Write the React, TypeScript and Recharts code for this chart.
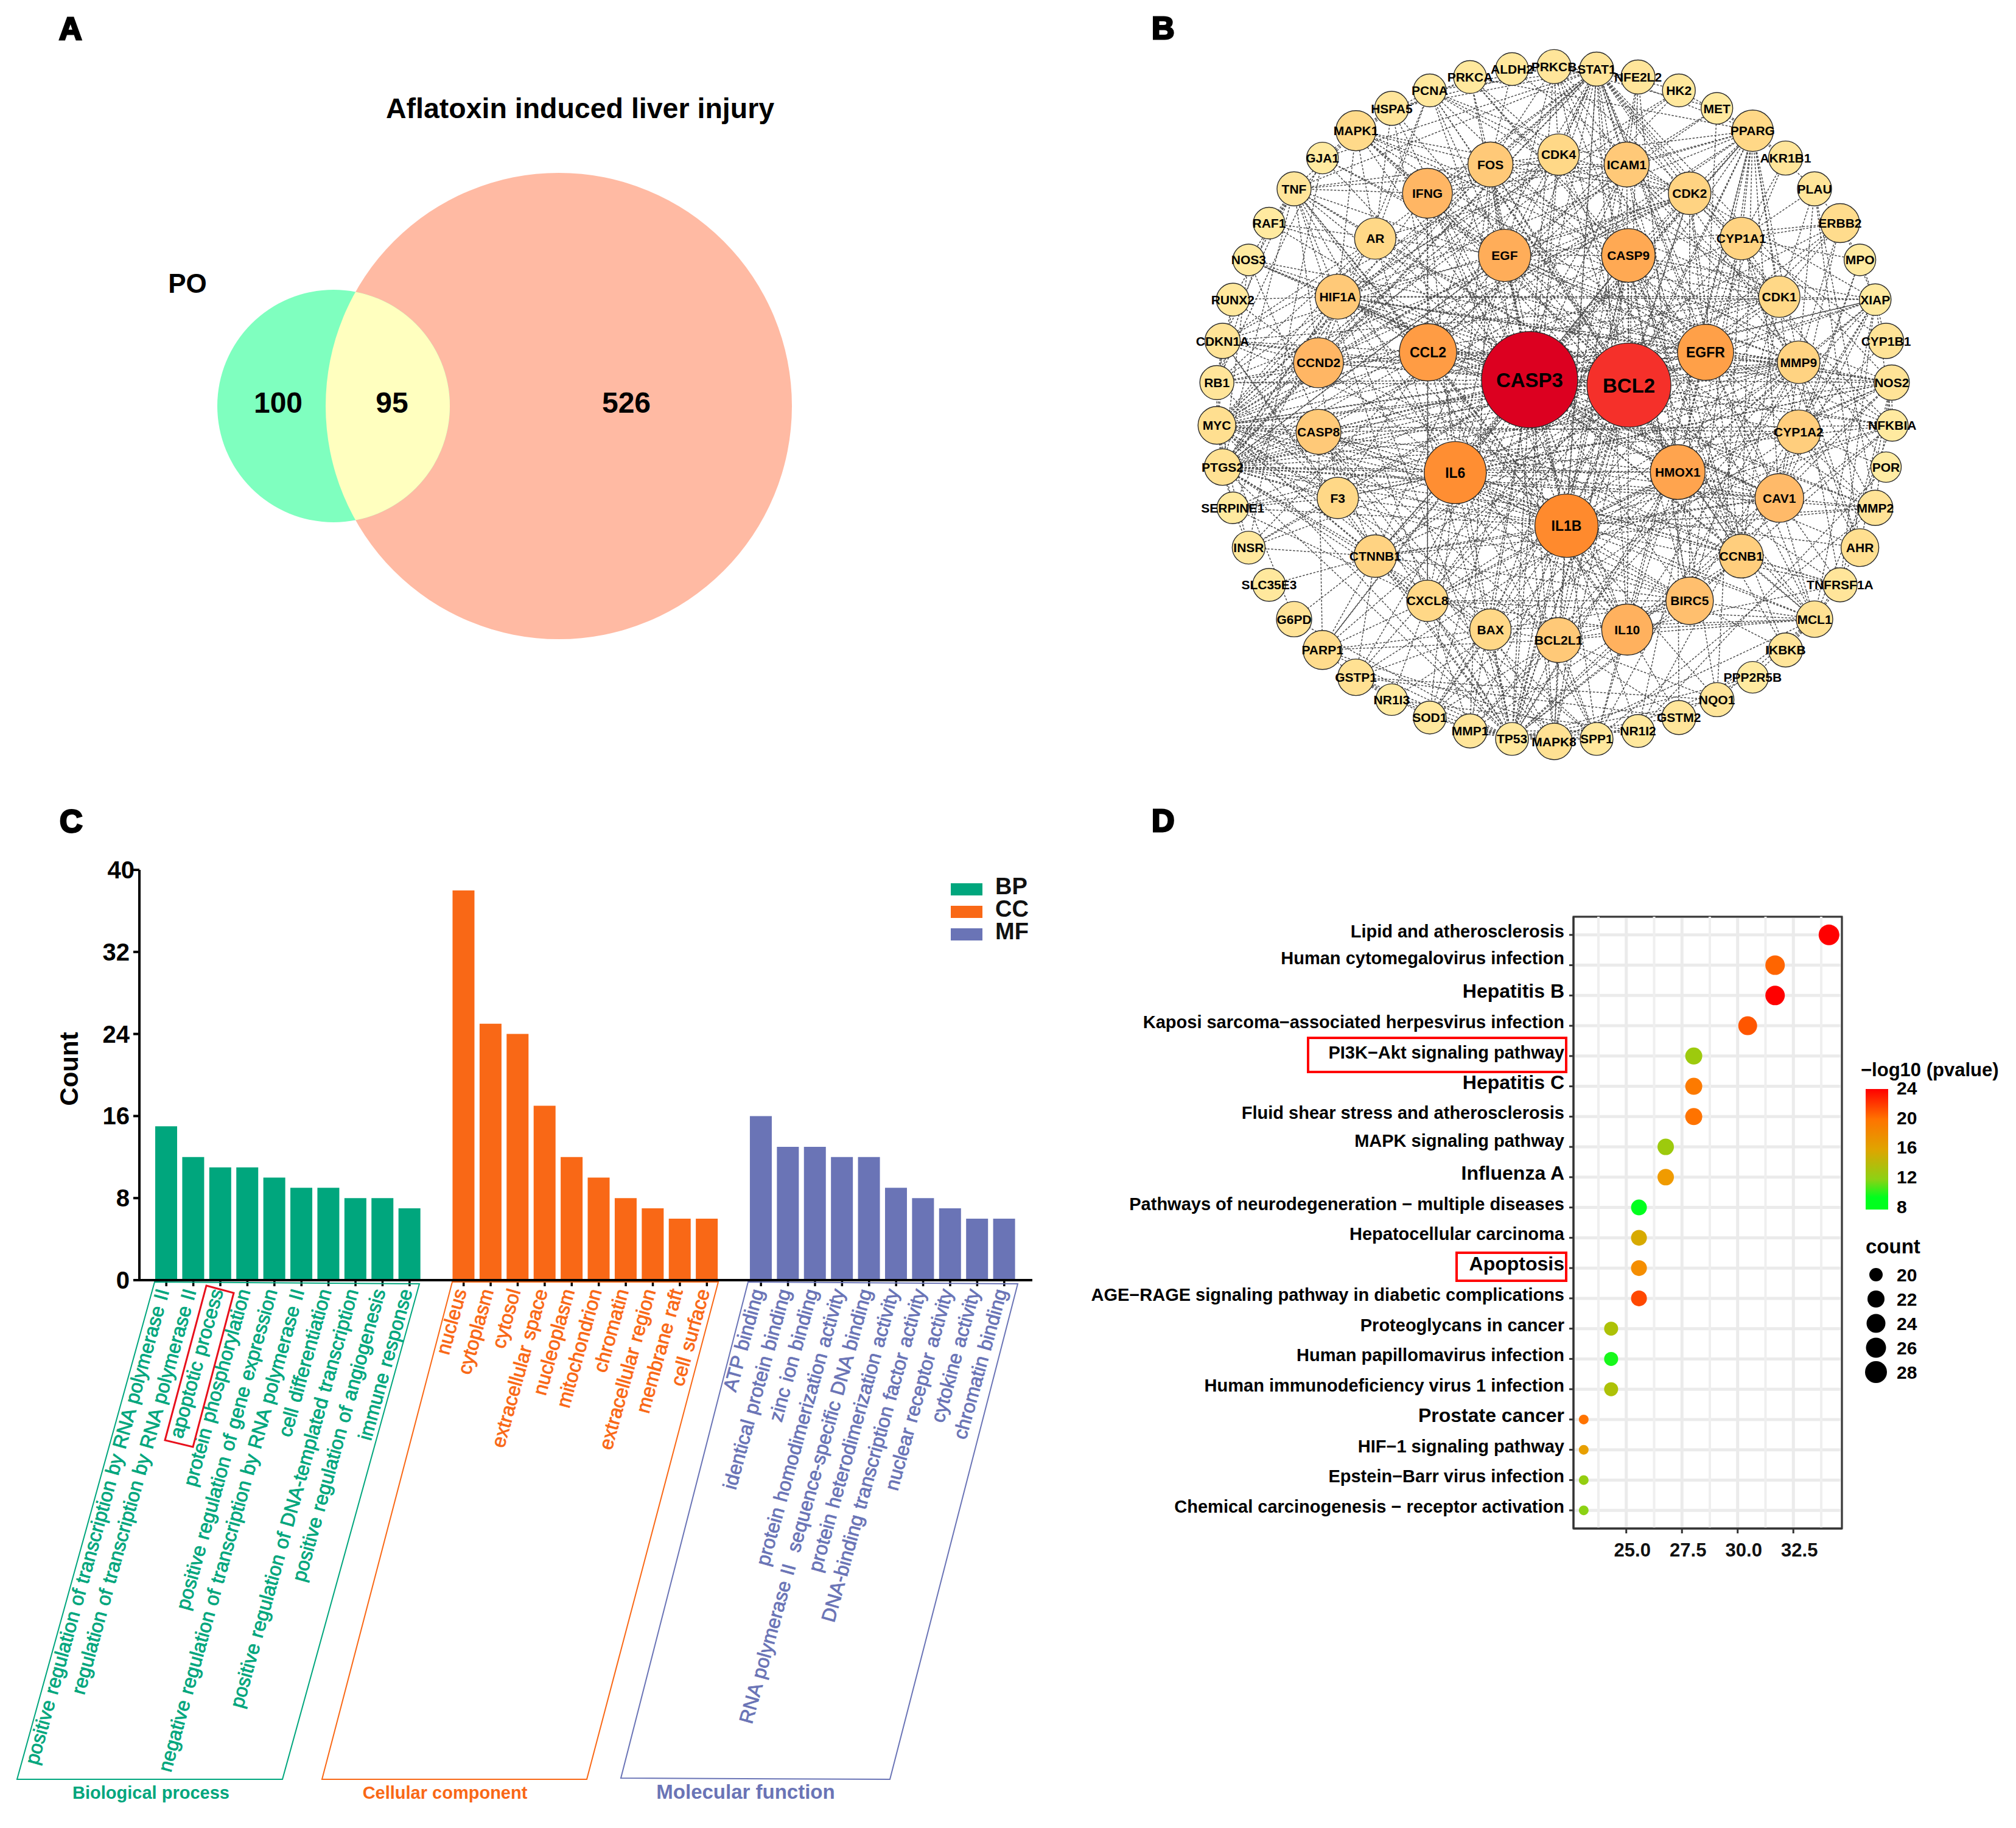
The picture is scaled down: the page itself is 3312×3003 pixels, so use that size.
import React from "react";
import {
  BarChart, Bar, XAxis, YAxis, ScatterChart, Scatter, ReferenceLine, ReferenceArea,
  CartesianGrid, Legend,
} from "recharts";

const FONT = '"Liberation Sans", Arial, sans-serif';

/* ---------- Panel A: Venn ---------- */
const vennNames = ["PO", "Aflatoxin induced liver injury"];
const vennX = [548, 918];
const vennY = [667, 667];
const vennR = [191, 383];
const vennCounts = ["100", "95", "526"];
const vennCountX = [457, 644, 1029];
const vennCountY = [663, 663, 663];

/* ---------- Panel B: network ---------- */
const nodeNames = [
  "PRKCB","STAT1","NFE2L2","HK2","MET","PPARG","AKR1B1","PLAU","ERBB2","MPO","XIAP","CYP1B1","NOS2","NFKBIA","POR","MMP2","AHR","TNFRSF1A","MCL1","IKBKB","PPP2R5B","NQO1","GSTM2","NR1I2","SPP1","MAPK8","TP53","MMP1","SOD1","NR1I3","GSTP1","PARP1","G6PD","SLC35E3","INSR","SERPINE1","PTGS2","MYC","RB1","CDKN1A","RUNX2","NOS3","RAF1","TNF","GJA1","MAPK1","HSPA5","PCNA","PRKCA","ALDH2",
  "CDK4","ICAM1","CDK2","CYP1A1","CDK1","MMP9","CYP1A2","CAV1","CCNB1","BIRC5","IL10","BCL2L1","BAX","CXCL8","CTNNB1","F3","CASP8","CCND2","HIF1A","AR","IFNG","FOS",
  "EGF","CASP9","EGFR","HMOX1","IL1B","IL6","CCL2","CASP3","BCL2",
];
const nodeX = [
  754,829,902,974,1041,1104,1162,1213,1258,1293,1320,1339,1349,1350,1339,1320,1293,1258,1213,1162,1104,1041,974,902,829,754,680,606,535,468,405,346,296,252,216,188,170,160,160,170,188,216,252,296,346,405,468,535,606,680,
  762,882,993,1084,1151,1185,1185,1151,1084,993,883,762,642,531,439,373,339,339,373,439,531,642,
  667,885,1021,972,776,580,532,711,886,
];
const nodeY = [
  134,139,155,182,218,263,318,380,449,523,603,686,770,856,940,1022,1102,1177,1246,1308,1363,1408,1444,1471,1487,1492,1487,1471,1444,1408,1363,1308,1246,1177,1102,1022,940,856,770,686,603,523,449,380,318,263,218,182,155,139,
  311,331,389,480,597,729,869,1002,1119,1209,1267,1288,1267,1209,1119,1002,869,730,597,480,389,331,
  514,514,709,950,1058,951,709,764,775,
];
const nodeR = [
  28,28,28,27,26,34,28,28,32,26,26,29,29,26,25,29,31,28,30,28,26,28,28,27,27,30,27,28,27,26,30,32,29,27,27,26,30,31,28,29,27,26,26,28,26,33,28,27,27,27,
  34,37,35,35,34,35,36,40,36,39,42,37,34,34,35,34,37,41,37,34,41,37,
  43,44,46,45,52,51,47,79,69,
];
const edgeLists: [string, string][] = [
  ["CASP3", "BCL2 IL1B IL6 CCL2 EGFR HMOX1 EGF CASP9 IL10 BIRC5 CAV1 CCNB1 CDK1 MMP9 CYP1A2 CASP8 CCND2 HIF1A AR IFNG FOS CDK4 ICAM1 CDK2 BAX CXCL8 CTNNB1 F3 BCL2L1 MYC PTGS2 CDKN1A RB1 TP53 STAT1 PRKCB PRKCA MAPK1 MAPK8 XIAP MCL1 NFKBIA TNF PARP1 GSTP1 SOD1 MMP2 MMP1 ERBB2 PPARG TNFRSF1A NOS2 NOS3 RAF1 GJA1 HSPA5 PCNA SERPINE1 INSR"],
  ["BCL2", "IL1B IL6 CCL2 EGFR HMOX1 EGF CASP9 IL10 BIRC5 CAV1 CCNB1 CDK1 MMP9 CASP8 CCND2 HIF1A AR IFNG FOS CDK4 ICAM1 CDK2 BAX CXCL8 CTNNB1 BCL2L1 MYC PTGS2 CDKN1A RB1 TP53 STAT1 PRKCB MAPK1 MAPK8 XIAP MCL1 NFKBIA TNF PARP1 SOD1 NOS3 PCNA HSPA5 NFE2L2 PPARG ERBB2 IKBKB"],
  ["IL1B", "IL6 CCL2 EGFR HMOX1 EGF CASP9 IL10 BIRC5 CAV1 MMP9 CASP8 HIF1A IFNG FOS ICAM1 CXCL8 CTNNB1 F3 MYC PTGS2 TNF TP53 SOD1 MMP1 MMP2 STAT1 SPP1 NFKBIA NOS2 PPARG SERPINE1 TNFRSF1A MAPK8 NQO1 GSTM2 NR1I2"],
  ["IL6", "CCL2 EGFR HMOX1 EGF CASP9 IL10 BIRC5 CAV1 CCND2 MMP9 HIF1A IFNG FOS ICAM1 CXCL8 CTNNB1 F3 MYC PTGS2 TNF TP53 SOD1 SPP1 STAT1 SERPINE1 INSR NOS2 PPARG MCL1 NFKBIA TNFRSF1A"],
  ["CCL2", "EGFR HMOX1 EGF IL10 CAV1 MMP9 HIF1A IFNG FOS ICAM1 CXCL8 F3 PTGS2 TNF SPP1 STAT1 PPARG NOS2 CDKN1A MYC RB1"],
  ["EGFR", "HMOX1 EGF CASP9 CAV1 CCND2 CDK1 CDK2 MMP9 HIF1A FOS CTNNB1 MYC PTGS2 STAT1 ERBB2 XIAP MET PRKCB PRKCA MAPK1 PCNA GJA1 RAF1 NOS2 MMP2 NFKBIA AKR1B1 CYP1A1"],
  ["HMOX1", "EGF IL10 CAV1 HIF1A IFNG FOS ICAM1 CXCL8 MMP9 NQO1 NFE2L2 SOD1 GSTM2 GSTP1 PTGS2 NOS2 PPARG TP53 MCL1 AHR"],
  ["EGF", "CASP9 CCND2 MMP9 HIF1A FOS CDK1 CDK2 MYC STAT1 ERBB2 MET PRKCB MAPK1 RAF1 GJA1 PCNA PTGS2 MMP2"],
  ["CASP9", "CDK1 BAX BCL2L1 BIRC5 CCNB1 MCL1 XIAP PARP1 TP53 MAPK8 MYC CASP8 PRKCA MAPK1 CDK2"],
  ["IL10", "IFNG CXCL8 CCNB1 TNF STAT1 SPP1 MMP9 MMP1 PPARG NOS2 NFKBIA MCL1 TNFRSF1A"],
  ["CCND2", "CDK4 CDK2 CDK1 CDKN1A RB1 MYC PTGS2 HIF1A STAT1 CCNB1 PCNA RUNX2"],
  ["CASP8", "BAX BCL2L1 BIRC5 XIAP MCL1 TP53 PARP1 TNFRSF1A MYC MAPK8 NFKBIA PTGS2"],
  ["HIF1A", "MYC PTGS2 STAT1 CAV1 MMP9 MMP2 SERPINE1 TP53 PPARG NOS2 NOS3 HK2 RUNX2 XIAP CDK1"],
  ["IFNG", "TNF STAT1 ICAM1 FOS CXCL8 CDK4 NOS2 PTGS2 MAPK1"],
  ["FOS", "STAT1 MYC MMP1 MMP9 MAPK1 MAPK8 PRKCA PRKCB ALDH2 PTGS2 ICAM1 CDK2"],
  ["CDK4", "STAT1 PRKCB CDK2 CDKN1A RB1 MYC PCNA TP53 CCNB1 PRKCA CDK1"],
  ["ICAM1", "STAT1 NFE2L2 PRKCB PPARG MET TNF NFKBIA PTGS2 NFE2L2 CDK2 MMP9"],
  ["CDK2", "PPARG CCNB1 CDK1 CDKN1A PCNA RB1 TP53 MYC XIAP STAT1 MAPK1 CYP1A1 BIRC5"],
  ["CDK1", "CCNB1 CDKN1A PCNA MAPK1 TP53 BIRC5 XIAP MYC ERBB2 PLAU"],
  ["CCNB1", "CDKN1A TP53 MYC PCNA BIRC5 MCL1"],
  ["MYC", "CDKN1A RB1 PTGS2 TP53 CCNB1 MMP9 CAV1 CTNNB1 STAT1 BAX BCL2L1 CXCL8 F3 HMOX1 CYP1A2 BIRC5 RUNX2 SERPINE1 G6PD HK2 AR"],
  ["PTGS2", "MMP9 CAV1 CXCL8 NOS2 NOS3 F3 CTNNB1 AR BAX TP53 SERPINE1 MMP2 CYP1A1 PPARG STAT1 BIRC5 CYP1A2 AHR TNF"],
  ["TP53", "BAX BCL2L1 CDKN1A GSTP1 CTNNB1 CCNB1 BIRC5 SPP1 NR1I2 CXCL8 MMP1 SOD1 NR1I3 PARP1 NFE2L2 HSPA5 AR G6PD GSTM2 IL10 CAV1 NQO1 PPP2R5B"],
  ["STAT1", "CYP1A1 MMP9 HK2 CDK1 BCL2L1 MCL1 BIRC5 PCNA TNF HSPA5 PPARG GJA1 CTNNB1 CCNB1 CAV1 NOS2"],
  ["PPARG", "CYP1A1 CAV1 MMP9 CDK1 CYP1A2 AR CTNNB1 TNF CXCL8 BIRC5 CCNB1 PLAU AKR1B1 SPP1 HK2 PRKCA MET"],
  ["MMP9", "MMP2 MMP1 CXCL8 CAV1 SPP1 CTNNB1 ERBB2 XIAP TNF PLAU TNFRSF1A SERPINE1 NFKBIA AHR"],
  ["CAV1", "NOS3 NOS2 ERBB2 MMP2 XIAP MPO CTNNB1 CCNB1 TNFRSF1A MCL1"],
  ["CYP1A1", "CYP1A2 CYP1B1 AHR AKR1B1 NQO1 ERBB2 GSTP1 MPO POR PPARG ALDH2"],
  ["CYP1A2", "CYP1B1 AHR POR NR1I2 NR1I3 MPO NOS2 XIAP"],
  ["BIRC5", "CTNNB1 BAX MCL1 XIAP BCL2L1 IKBKB CXCL8 NFKBIA"],
  ["BCL2L1", "BAX MCL1 XIAP MAPK8 PARP1 SOD1 MMP1 NQO1 GSTM2 SPP1 IL10"],
  ["BAX", "MCL1 MAPK8 PARP1 SOD1 XIAP GSTP1"],
  ["CXCL8", "TNF MMP1 MCL1 SPP1 SERPINE1 NFKBIA NR1I3 PARP1"],
  ["CTNNB1", "MAPK8 GSTP1 G6PD SLC35E3 INSR PARP1 MMP2 CDKN1A NOS3"],
  ["F3", "SERPINE1 TNF NOS2 SPP1 INSR PTGS2 RB1"],
  ["AR", "MAPK1 CDKN1A RB1 TNF HSPA5 STAT1 PCNA"],
  ["MAPK1", "TNF RAF1 GJA1 PRKCA HSPA5 PCNA HIF1A"],
  ["TNF", "RUNX2 NOS3 RAF1 HIF1A AR CDKN1A"],
  ["PRKCB", "PCNA HSPA5 CDK2 MET NFE2L2 IKBKB"],
  ["RB1", "CDKN1A RUNX2 RAF1 GJA1"],
  ["INSR", "MYC GJA1 F3 SERPINE1 HK2"],
  ["XIAP", "CYP1B1 MCL1 NFKBIA TNFRSF1A MPO"],
  ["NOS2", "MMP2 NOS3 NFKBIA TNFRSF1A AHR"],
  ["MCL1", "IKBKB MAPK8 TNFRSF1A NQO1 PPP2R5B GSTM2 NFKBIA AHR"],
  ["GSTP1", "GSTM2 NQO1 MMP1 SOD1 NR1I3 PARP1"],
  ["NR1I2", "NR1I3 CYP1A1 POR MMP1"],
  ["SPP1", "MMP1 MMP2 PARP1 PPP2R5B"],
  ["ERBB2", "MPO PLAU XIAP"],
  ["PLAU", "MMP2 AHR CYP1A1"],
];

/* ---------- Panel C: GO bars ---------- */
const bpTerms = ["positive regulation of transcription by RNA polymerase II","regulation of transcription by RNA polymerase II","apoptotic process","protein phosphorylation","positive regulation of gene expression","negative regulation of transcription by RNA polymerase II","cell differentiation","positive regulation of DNA-templated transcription","positive regulation of angiogenesis","immune response"];
const bpCounts = [15, 12, 11, 11, 10, 9, 9, 8, 8, 7];
const ccTerms = ["nucleus","cytoplasm","cytosol","extracellular space","nucleoplasm","mitochondrion","chromatin","extracellular region","membrane raft","cell surface"];
const ccCounts = [38, 25, 24, 17, 12, 10, 8, 7, 6, 6];
const mfTerms = ["ATP binding","identical protein binding","zinc ion binding","protein homodimerization activity","RNA polymerase II\u00A0\u00A0sequence-specific DNA binding","protein heterodimerization activity","DNA-binding transcription factor activity","nuclear receptor activity","cytokine activity","chromatin binding"];
const mfCounts = [16, 13, 13, 12, 12, 9, 8, 7, 6, 6];
const countTicks = [0, 8, 16, 24, 32, 40];
const groupCaptions = ["Biological process", "Cellular component", "Molecular function"];

/* ---------- Panel D: KEGG dots ---------- */
const pathways = ["Lipid and atherosclerosis","Human cytomegalovirus infection","Hepatitis B","Kaposi sarcoma\u2212associated herpesvirus infection","PI3K\u2212Akt signaling pathway","Hepatitis C","Fluid shear stress and atherosclerosis","MAPK signaling pathway","Influenza A","Pathways of neurodegeneration \u2212 multiple diseases","Hepatocellular carcinoma","Apoptosis","AGE\u2212RAGE signaling pathway in diabetic complications","Proteoglycans in cancer","Human papillomavirus infection","Human immunodeficiency virus 1 infection","Prostate cancer","HIF\u22121 signaling pathway","Epstein\u2212Barr virus infection","Chemical carcinogenesis \u2212 receptor activation"];
const pathRatio = [34.1, 31.68, 31.68, 30.45, 28.03, 28.03, 28.03, 26.77, 26.77, 25.57, 25.57, 25.57, 25.57, 24.32, 24.32, 24.32, 23.09, 23.09, 23.09, 23.09];
const pathCount = [28, 26, 26, 25, 23, 23, 23, 22, 22, 21, 21, 21, 21, 20, 20, 20, 19, 19, 19, 19];
const pathLogP = [24, 20.5, 24, 21, 12, 19.5, 20, 12, 17, 8, 15.5, 18, 21.5, 13, 8.5, 13, 20, 16.5, 11.5, 11];
const ratioTicks = [25, 27.5, 30, 32.5];
const ratioMinor = [23.75, 26.25, 28.75, 31.25, 33.75];
const colorbarTicks = [24, 20, 16, 12, 8];
const sizeLegend = [20, 22, 24, 26, 28];
const largeLabels = ["Hepatitis B", "Hepatitis C", "Influenza A", "Apoptosis", "Prostate cancer"];

/* ---------- helpers ---------- */
const GREEN = "#00a67d", ORANGE = "#f96816", BLUE = "#6a74b6";

function mix(stops: [number, number[]][], v: number) {
  for (let i = 0; i < stops.length - 1; i++) {
    const [a, ca] = stops[i], [b, cb] = stops[i + 1];
    if (v <= b) {
      const t = Math.max(0, (v - a) / (b - a));
      return `rgb(${ca.map((c, k) => Math.round(c + (cb[k] - c) * t)).join(",")})`;
    }
  }
  const l = stops[stops.length - 1][1];
  return `rgb(${l.join(",")})`;
}
const heatStops: [number, number[]][] = [
  [25, [255, 236, 163]], [34, [255, 216, 135]], [40, [255, 186, 105]], [46, [255, 160, 72]],
  [52, [255, 138, 45]], [69, [245, 48, 42]], [79, [220, 0, 32]],
];
const pStops: [number, number[]][] = [
  [8, [0, 255, 30]], [11, [140, 210, 20]], [14, [190, 185, 0]], [17, [240, 155, 0]], [20, [255, 115, 0]], [24, [255, 0, 0]],
];
const dotR: Record<number, number> = { 19: 8, 20: 11.5, 21: 13, 22: 13.5, 23: 14, 24: 15, 25: 15.5, 26: 16, 28: 17 };
const legendR: Record<number, number> = { 20: 11, 22: 14, 24: 15.5, 26: 16.5, 28: 18 };

const vennData = vennNames.map((name, i) => ({ name, x: vennX[i], y: vennY[i], r: vennR[i] }));
const vennLabels = vennCounts.map((label, i) => ({ label, x: vennCountX[i], y: vennCountY[i] }));
const nodes = nodeNames.map((name, i) => ({ name, x: nodeX[i], y: nodeY[i], r: nodeR[i] }));
const nodeIndex: Record<string, number> = {};
nodes.forEach((n, i) => { nodeIndex[n.name] = i; });
const edges: { a: any; b: any; key: string }[] = [];
{
  const seen = new Set<string>();
  edgeLists.forEach(([hub, list]) => list.split(" ").forEach((other) => {
    const key = [hub, other].sort().join("|");
    if (seen.has(key) || hub === other) return;
    seen.add(key);
    edges.push({ a: nodes[nodeIndex[hub]], b: nodes[nodeIndex[other]], key });
  }));
}

const blank = (t: string) => ({ name: t });
const goRows: any[] = [
  ...bpTerms.map((name, i) => ({ name, BP: bpCounts[i], group: GREEN })),
  blank(" "),
  ...ccTerms.map((name, i) => ({ name, CC: ccCounts[i], group: ORANGE })),
  blank("  "),
  ...mfTerms.map((name, i) => ({ name, MF: mfCounts[i], group: BLUE })),
];
const dotRows = pathways.map((name, i) => ({ name, rank: i + 1, x: pathRatio[i], count: pathCount[i], logp: pathLogP[i] }));

/* ---------- shapes ---------- */
const VennCircle = (fill: string) => (p: any) => <circle cx={p.cx} cy={p.cy} r={p.payload.r} fill={fill} />;
const VennLens = (p: any) => (
  <g>
    <clipPath id="venn-big"><circle cx={p.cx + vennX[1] - vennX[0]} cy={p.cy} r={vennR[1]} /></clipPath>
    <circle cx={p.cx} cy={p.cy} r={p.payload.r} fill="#ffffbf" clipPath="url(#venn-big)" />
  </g>
);
const VennText = (p: any) => (
  <text x={p.cx} y={p.cy + 15} textAnchor="middle" fontFamily={FONT} fontWeight={700} fontSize={48} fill="#000">{p.payload.label}</text>
);
const labelSize = (n: any) => (n.r >= 60 ? 33 : n.r >= 46 ? 23 : 21);
const NodeShape = (p: any) => {
  const n = p.payload;
  const fs = labelSize(n);
  return (
    <g>
      <circle cx={p.cx} cy={p.cy} r={n.r} fill={mix(heatStops, n.r)} stroke="#2a2a2a" strokeWidth={1.4} />
      <text x={p.cx} y={p.cy + fs * 0.36} textAnchor="middle" fontFamily={FONT} fontWeight={700} fontSize={fs} fill="#000">{n.name}</text>
    </g>
  );
};
const DotShape = (p: any) => <circle cx={p.cx} cy={p.cy} r={dotR[p.payload.count]} fill={mix(pStops, p.payload.logp)} />;

const GoTick = (p: any) => {
  const row = goRows.find((r) => r.name === p.payload.value);
  if (!row || !row.group) return null;
  return (
    <g>
      <line x1={p.x} x2={p.x} y1={p.y} y2={p.y + 10} stroke="#000" strokeWidth={3.5} />
      <text transform={`translate(${p.x + 5},${p.y + 18}) rotate(-74.5)`} textAnchor="end" fontFamily={FONT}
        fontWeight={400} fontSize={32} wordSpacing={2} stroke={row.group} strokeWidth={0.8} fill={row.group}>{p.payload.value}</text>
    </g>
  );
};
const CountTick = (p: any) => (
  <text x={p.x - 4 + (p.payload.value === 40 ? 8 : 0)} y={p.y + 14} textAnchor="end" fontFamily={FONT} fontWeight={700} fontSize={40} fill="#000">{p.payload.value}</text>
);
const PathTick = (p: any) => {
  const name = dotRows[p.payload.value - 1]?.name;
  const big = largeLabels.includes(name);
  const shift = p.payload.value === 2 ? -6 : p.payload.value === 8 ? -4 : 0;
  return (
    <text x={p.x - 6} y={p.y + 4 + shift} textAnchor="end" fontFamily={FONT} fontWeight={700} fontSize={big ? 32 : 29} fill="#000">{name}</text>
  );
};
const RatioTick = (p: any) => (
  <text x={p.x + 10} y={p.y + 36} textAnchor="middle" fontFamily={FONT} fontWeight={700} fontSize={31} fill="#111">{p.payload.value.toFixed(1)}</text>
);
const GoLegend = (p: any) => (
  <div style={{ fontFamily: FONT, fontWeight: 700, fontSize: 38, color: "#111" }}>
    {(p.payload || []).map((e: any) => (
      <div key={e.value} style={{ display: "flex", alignItems: "center", height: 37 }}>
        <div style={{ width: 52, height: 20, background: e.color, marginRight: 21 }} />
        <span style={{ position: "relative", top: -4 }}>{e.value}</span>
      </div>
    ))}
  </div>
);

const Letter = ({ x, y, t }: any) => (
  <text x={x} y={y} fontFamily={FONT} fontWeight={700} fontSize={52} stroke="#000" strokeWidth={3} fill="#000">{t}</text>
);

const abs = (left: number, top: number): React.CSSProperties => ({ position: "absolute", left, top });

export default function App() {
  return (
    <div style={{ position: "absolute", left: 0, top: 0, width: 3312, height: 3003, background: "#fff", overflow: "hidden", fontFamily: FONT }}>
      {/* A */}
      <div style={abs(0, 0)}>
        <ScatterChart width={1400} height={1100} margin={{ top: 0, right: 0, bottom: 0, left: 0 }}>
          <XAxis type="number" dataKey="x" domain={[0, 1400]} hide />
          <YAxis type="number" dataKey="y" domain={[0, 1100]} reversed hide />
          <Scatter data={[vennData[1]]} shape={VennCircle("#ffbaa3")} isAnimationActive={false} />
          <Scatter data={[vennData[0]]} shape={VennCircle("#7fffbf")} isAnimationActive={false} />
          <Scatter data={[vennData[0]]} shape={VennLens} isAnimationActive={false} />
          <Scatter data={vennLabels} shape={VennText} isAnimationActive={false} />
        </ScatterChart>
      </div>

      {/* B */}
      <div style={abs(1850, 0)}>
        <ScatterChart width={1462} height={1280} margin={{ top: 0, right: 0, bottom: 0, left: 0 }}>
          <XAxis type="number" dataKey="x" domain={[0, 1568]} hide />
          <YAxis type="number" dataKey="y" domain={[0, 1568]} reversed hide />
          {edges.map((e) => (
            <ReferenceLine key={e.key} segment={[{ x: e.a.x, y: e.a.y }, { x: e.b.x, y: e.b.y }]}
              stroke="#4a4a4a" strokeWidth={1.5} strokeDasharray="3.5 2.5" />
          ))}
          <Scatter data={nodes} shape={NodeShape} isAnimationActive={false} />
        </ScatterChart>
      </div>

      {/* C */}
      <div style={abs(0, 1400)}>
        <BarChart width={1720} height={1560} data={goRows} barSize={36} margin={{ top: 29, right: 24, bottom: 0, left: 0 }}>
          <XAxis dataKey="name" type="category" interval={0} height={857} padding={{ left: 22, right: 24 }}
            tick={GoTick} tickLine={false} tickSize={0} tickMargin={0} axisLine={{ stroke: "#000", strokeWidth: 4 }} />
          <YAxis type="number" domain={[0, 40]} ticks={countTicks} width={229} tick={CountTick} tickSize={10}
            tickLine={{ stroke: "#000", strokeWidth: 4 }} axisLine={{ stroke: "#000", strokeWidth: 4 }} />
          <Legend layout="vertical" align="center" verticalAlign="middle" content={GoLegend}
            wrapperStyle={{ position: "absolute", left: 1562, top: 42, width: 150, height: 120, bottom: "auto", right: "auto" }} />
          <Bar dataKey="BP" name="BP" stackId="go" fill={GREEN} isAnimationActive={false} />
          <Bar dataKey="CC" name="CC" stackId="go" fill={ORANGE} isAnimationActive={false} />
          <Bar dataKey="MF" name="MF" stackId="go" fill={BLUE} isAnimationActive={false} />
        </BarChart>
      </div>

      {/* D */}
      <div style={abs(1760, 1480)}>
        <ScatterChart width={1280} height={1100} margin={{ top: 26, right: 14, bottom: 0, left: 0 }}>
          <CartesianGrid stroke="#ebebeb" strokeWidth={5} />
          {ratioMinor.map((v) => <ReferenceLine key={v} x={v} stroke="#efefef" strokeWidth={4} />)}
          <XAxis type="number" dataKey="x" domain={[22.63, 34.68]} ticks={ratioTicks} allowDataOverflow height={69}
            tick={RatioTick} tickSize={8} tickLine={{ stroke: "#333", strokeWidth: 3 }} axisLine={{ stroke: "#333", strokeWidth: 3 }} />
          <YAxis type="number" dataKey="rank" domain={[0.4, 20.6]} reversed allowDataOverflow interval={0}
            ticks={dotRows.map((r) => r.rank)} width={825} tick={PathTick} tickSize={7}
            tickLine={{ stroke: "#333", strokeWidth: 3 }} axisLine={{ stroke: "#333", strokeWidth: 3 }} />
          <ReferenceArea x1={22.63} x2={34.68} y1={0.4} y2={20.6} fill="none" stroke="#333" strokeWidth={3} ifOverflow="visible" />
          <Scatter data={dotRows} shape={DotShape} isAnimationActive={false} />
        </ScatterChart>
      </div>

      {/* annotations */}
      <svg width={3312} height={3003} style={{ position: "absolute", left: 0, top: 0, pointerEvents: "none" }} fontFamily={FONT}>
        <defs>
          <linearGradient id="cbar" x1="0" y1="0" x2="0" y2="1">
            <stop offset="0" stopColor="#ff0000" />
            <stop offset="0.25" stopColor="#ff7300" />
            <stop offset="0.5" stopColor="#e0a400" />
            <stop offset="0.75" stopColor="#8cd214" />
            <stop offset="0.9" stopColor="#00ff1e" />
            <stop offset="1" stopColor="#00ff1e" />
          </linearGradient>
        </defs>
        <Letter x={97} y={65} t="A" />
        <Letter x={1892} y={64} t="B" />
        <Letter x={98} y={1367} t="C" />
        <Letter x={1892} y={1366} t="D" />

        <text x={953} y={194} textAnchor="middle" fontWeight={700} fontSize={46.5}>{vennNames[1]}</text>
        <text x={308} y={481} textAnchor="middle" fontWeight={700} fontSize={44}>{vennNames[0]}</text>

        <text transform="translate(128,1756) rotate(-90)" textAnchor="middle" fontWeight={700} fontSize={42}>Count</text>
        <polygon points="28,2923 464,2923 689,2109 254,2106" fill="none" stroke={GREEN} strokeWidth={2} />
        <polygon points="529,2923 964,2923 1180,2106 743,2106" fill="none" stroke={ORANGE} strokeWidth={2} />
        <polygon points="1020,2921 1462,2923 1672,2109 1229,2106" fill="none" stroke={BLUE} strokeWidth={2} />
        <polygon points="339,2112 384,2124 317,2377 271,2366" fill="none" stroke="#e8101c" strokeWidth={3} />
        <text x={248} y={2955} textAnchor="middle" fontWeight={700} fontSize={29} fill={GREEN}>{groupCaptions[0]}</text>
        <text x={731} y={2955} textAnchor="middle" fontWeight={700} fontSize={29} fill={ORANGE}>{groupCaptions[1]}</text>
        <text x={1225} y={2955} textAnchor="middle" fontWeight={700} fontSize={33} fill={BLUE}>{groupCaptions[2]}</text>

        <rect x={2149} y={1705} width={424} height={56} fill="none" stroke="#f00" strokeWidth={4} />
        <rect x={2393} y={2058} width={180} height={46} fill="none" stroke="#f00" strokeWidth={4} />
        <text x={3057} y={1768} fontWeight={700} fontSize={31}>{"\u2212log10 (pvalue)"}</text>
        <rect x={3065} y={1789} width={37} height={198} fill="url(#cbar)" />
        {colorbarTicks.map((v, i) => (
          <text key={v} x={3116} y={1798 + i * 48.7} fontWeight={700} fontSize={30}>{v}</text>
        ))}
        <text x={3065} y={2059} fontWeight={700} fontSize={33}>count</text>
        {sizeLegend.map((v, i) => (
          <g key={v}>
            <circle cx={3082} cy={2094 + i * 40} r={legendR[v]} fill="#000" />
            <text x={3116} y={2105 + i * 40} fontWeight={700} fontSize={30}>{v}</text>
          </g>
        ))}
      </svg>
    </div>
  );
}
